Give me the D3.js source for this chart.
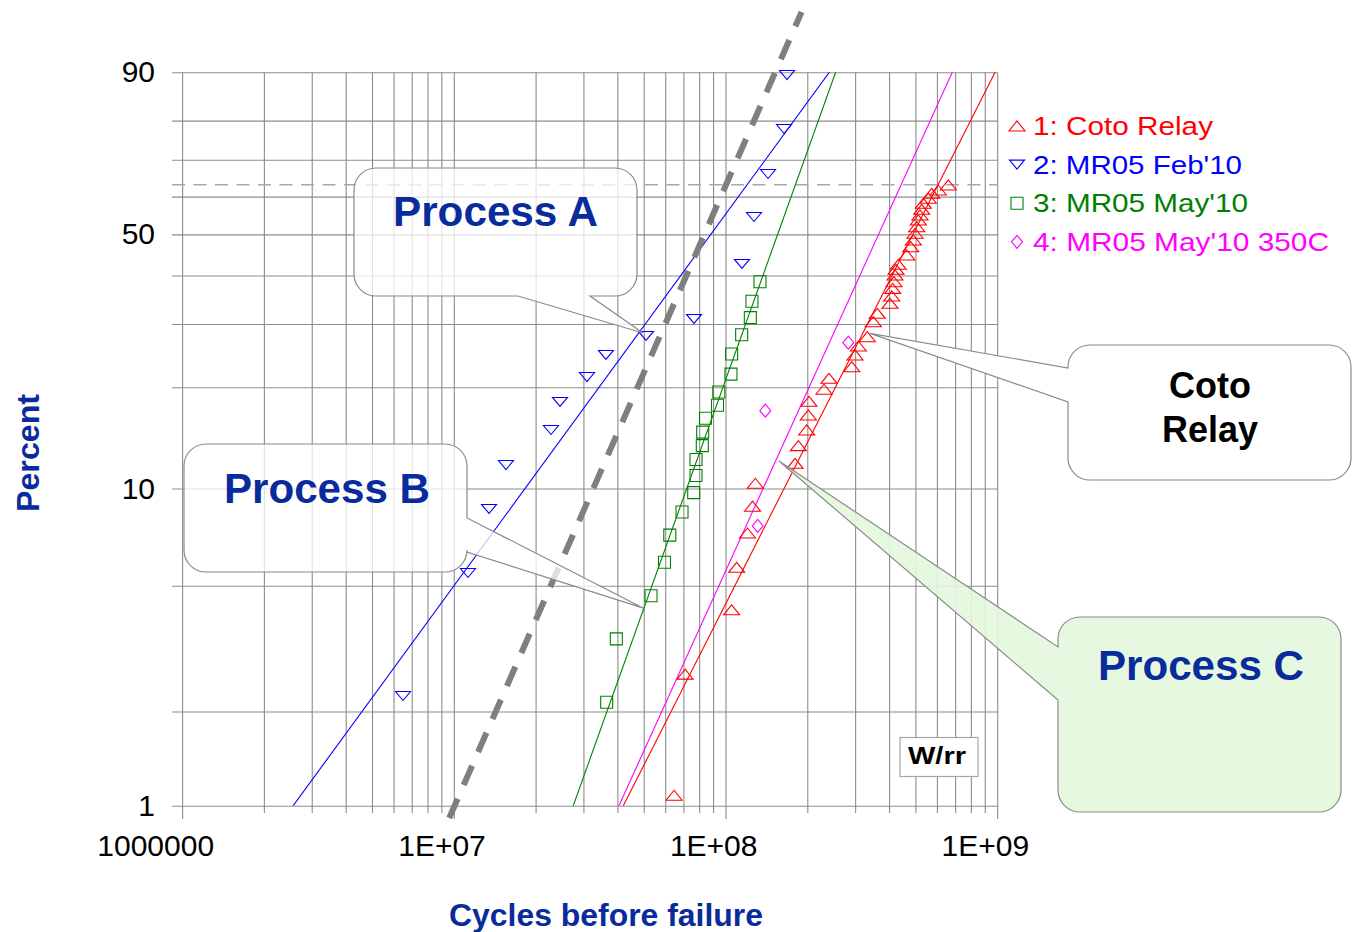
<!DOCTYPE html>
<html>
<head>
<meta charset="utf-8">
<script src="https://cdn.jsdelivr.net/npm/d3@7"></script>
<style>
  html, body { margin: 0; padding: 0; background: #fff; }
  svg text { font-family: "Liberation Sans", Arial, sans-serif; }
</style>
</head>
<body>
<script>
// ---------------- DATA ----------------
const seriesNames = ["1: Coto Relay", "2: MR05 Feb'10", "3: MR05 May'10", "4: MR05 May'10 350C"];
const seriesColors = ["#ff0000", "#0000ff", "#008000", "#ff00ff"];
const seriesShapes = ["up", "down", "square", "diamond"];

const cotoCycles = [6.44e7, 7.07e7, 1.049e8, 1.095e8, 1.200e8, 1.252e8, 1.282e8, 1.795e8, 1.846e8, 1.982e8,
  2.009e8, 2.021e8, 2.295e8, 2.394e8, 2.902e8, 2.984e8, 3.069e8, 3.312e8, 3.485e8, 3.605e8,
  4.014e8, 4.073e8, 4.108e8, 4.153e8, 4.188e8, 4.224e8, 4.307e8, 4.626e8, 4.785e8, 4.892e8,
  4.962e8, 5.034e8, 5.103e8, 5.176e8, 5.252e8, 5.324e8, 5.554e8, 5.716e8, 6.044e8, 6.580e8];
const cotoPct = [1.08, 2.63, 4.20, 5.71, 7.30, 8.83, 10.38, 11.93, 13.48, 15.01,
  16.62, 18.22, 19.74, 21.22, 22.89, 24.69, 26.14, 27.72, 30.42, 32.03,
  34.02, 35.53, 37.16, 38.61, 40.12, 41.43, 42.60, 44.83, 46.87, 48.55,
  50.27, 51.98, 53.74, 55.06, 56.59, 58.20, 59.56, 60.91, 61.81, 63.18];

const feb10Cycles = [6.475e6, 1.123e7, 1.342e7, 1.550e7, 2.269e7, 2.449e7, 3.079e7, 3.616e7, 5.077e7, 7.625e7,
  1.145e8, 1.268e8, 1.428e8, 1.635e8, 1.677e8];
const feb10Pct = [2.24, 5.48, 8.66, 11.79, 15.01, 18.14, 21.40, 24.69, 27.85, 30.94,
  42.68, 54.53, 66.17, 77.97, 89.53];

const may10Cycles = [3.638e7, 3.948e7, 5.297e7, 5.937e7, 6.210e7, 6.889e7, 7.606e7, 7.756e7, 7.756e7, 8.181e7,
  8.208e7, 8.405e7, 9.305e7, 9.408e7, 1.043e8, 1.049e8, 1.142e8, 1.229e8, 1.246e8, 1.334e8];
const may10Pct = [2.14, 3.40, 4.65, 5.92, 7.19, 8.48, 9.72, 10.96, 12.25, 13.48,
  14.79, 16.26, 17.75, 19.39, 21.81, 24.84, 28.07, 31.19, 34.43, 38.61];

const may350Cycles = [1.308e8, 1.395e8, 2.819e8];
const may350Pct = [7.68, 17.11, 26.69];

// Weibull fit parameters (beta, eta) per series
const fitBeta = [1.725, 1.196, 2.444, 1.924];
const fitEta = [6.03e8, 1.195e8, 1.80e8, 4.41e8];

// Reference (thick dashed) line
const refBeta = 2.0;
const refEta = 1.0e8;

// Axis ticks
const yGridPct = [1, 2, 5, 10, 20, 30, 40, 50, 60, 70, 80, 90];
const yLabelPct = [1, 10, 50, 90];
const xDecades = [1e6, 1e7, 1e8, 1e9];
const xTickText = ["1000000", "1E+07", "1E+08", "1E+09"];

// Callout tips (cycles, percent)
const tipCycles = [4.95e7, 4.97e7, 3.39e8, 1.567e8];
const tipPct = [28.37, 4.25, 28.31, 12.13];

// ---------------- SCALES ----------------
const W = p => Math.log(-Math.log(1 - p / 100));
const L = { left: 182.6, right: 997.7, top: 72.3, bottom: 805.7 };
const x = d3.scaleLog().domain([1e6, 1e9]).range([L.left, L.right]);
const y = d3.scaleLinear().domain([W(1), W(90)]).range([L.bottom, L.top]);
const yP = p => y(W(p));

const svg = d3.select("body").append("svg").attr("width", 1352).attr("height", 932);

svg.append("defs").append("clipPath").attr("id", "plotclip")
  .append("rect").attr("x", L.left).attr("y", L.top)
  .attr("width", L.right - L.left).attr("height", L.bottom - L.top);

const gridColor = "#8c8c8c";

// vertical grid
const vGrid = [];
xDecades.slice(0, 3).forEach(d => { for (let k = 1; k <= 9; k++) vGrid.push(k * d); });
vGrid.push(1e9);
svg.append("g").selectAll("line").data(vGrid).join("line")
  .attr("x1", d => x(d)).attr("x2", d => x(d))
  .attr("y1", L.top)
  .attr("y2", d => xDecades.includes(d) ? 819 : 813)
  .attr("stroke", gridColor).attr("stroke-width", 1.1);

// horizontal grid + y labels via axis
const yAxis = d3.axisLeft(y)
  .tickValues(yGridPct.map(W))
  .tickSizeInner(-(L.right - 172))
  .tickSizeOuter(0)
  .tickPadding(17)
  .tickFormat((d, i) => yLabelPct.includes(yGridPct[i]) ? String(yGridPct[i]) : "");
const gy = svg.append("g").attr("transform", "translate(172,0)").call(yAxis);
gy.select(".domain").remove();
gy.selectAll(".tick line").attr("stroke", gridColor).attr("stroke-width", 1.1);
gy.selectAll(".tick text").attr("font-size", 30).attr("fill", "#000")
  .attr("font-family", "Liberation Sans, Arial, sans-serif");

// x labels via axis
const xAxis = d3.axisBottom(x).tickValues(xDecades).tickSize(0).tickPadding(0)
  .tickFormat((d, i) => xTickText[i]);
const gx = svg.append("g").attr("transform", "translate(0,856)").call(xAxis);
gx.select(".domain").remove();
gx.selectAll(".tick text").attr("font-size", 30).attr("fill", "#000")
  .attr("text-anchor", "end").attr("dx", 31).attr("dy", 0).attr("y", 0)
  .attr("font-family", "Liberation Sans, Arial, sans-serif");

// 63.2% characteristic life dashed line
svg.append("line").attr("x1", 172).attr("x2", L.right)
  .attr("y1", y(0)).attr("y2", y(0))
  .attr("stroke", "#a8a8a8").attr("stroke-width", 1.5).attr("stroke-dasharray", "13,8.5");

// fit lines
const tAt = (beta, eta, w) => eta * Math.exp(w / beta);
const fitG = svg.append("g").attr("clip-path", "url(#plotclip)");
fitBeta.forEach((b, i) => {
  const w0 = W(0.5), w1 = W(97);
  fitG.append("line")
    .attr("x1", x(tAt(b, fitEta[i], w0))).attr("y1", y(w0))
    .attr("x2", x(tAt(b, fitEta[i], w1))).attr("y2", y(w1))
    .attr("stroke", seriesColors[i]).attr("stroke-width", 1.1);
});

// thick dashed reference line (extends outside plot)
{
  const w0 = -4.691, w1 = 1.2808;
  svg.append("line")
    .attr("x1", x(tAt(refBeta, refEta, w0))).attr("y1", y(w0))
    .attr("x2", x(tAt(refBeta, refEta, w1))).attr("y2", y(w1))
    .attr("stroke", "#7f7f7f").attr("stroke-width", 6).attr("stroke-dasharray", "21,15");
}

// markers
const shapePath = {
  up: "M-8,5L8,5L0,-5Z",
  down: "M-7.5,-4.5L7.5,-4.5L0,4.5Z",
  square: "M-6,-6H6V6H-6Z",
  diamond: "M0,-6.5L5.5,0L0,6.5L-5.5,0Z"
};
const allCycles = [cotoCycles, feb10Cycles, may10Cycles, may350Cycles];
const allPct = [cotoPct, feb10Pct, may10Pct, may350Pct];
const markG = svg.append("g");
allCycles.forEach((cyc, i) => {
  const pts = cyc.map((c, j) => ({ c, p: allPct[i][j] }));
  markG.append("g").selectAll("path").data(pts).join("path")
    .attr("d", shapePath[seriesShapes[i]])
    .attr("transform", d => `translate(${x(d.c)},${yP(d.p)})`)
    .attr("fill", "none").attr("stroke", seriesColors[i]).attr("stroke-width", 1.1);
});

// ---------------- CALLOUTS ----------------
function boxPath(x0, y0, x1, y1, r, side, a, c, tx, ty) {
  const A = (ex, ey) => `A${r},${r} 0 0 1 ${ex},${ey}`;
  let s = `M${x0 + r},${y0} H${x1 - r} ${A(x1, y0 + r)} `;
  if (side === "right") s += `V${a} L${tx},${ty} L${x1},${c} `;
  s += `V${y1 - r} ${A(x1 - r, y1)} `;
  if (side === "bottom") s += `H${c} L${tx},${ty} L${a},${y1} `;
  s += `H${x0 + r} ${A(x0, y1 - r)} `;
  if (side === "left") s += `V${c} L${tx},${ty} L${x0},${a} `;
  s += `V${y0 + r} ${A(x0 + r, y0)} Z`;
  return s;
}
const calloutStroke = "#8a8a8a";
const blueTitle = "#0a2b9c";

// Process A
svg.append("path")
  .attr("d", boxPath(354, 168, 637, 296, 22, "bottom", 518, 590, x(tipCycles[0]), yP(tipPct[0])))
  .attr("fill", "rgba(255,255,255,0.75)").attr("stroke", calloutStroke).attr("stroke-width", 1.2);
svg.append("text").attr("x", 393).attr("y", 226).attr("font-size", 42).attr("font-weight", "bold")
  .attr("fill", blueTitle).attr("textLength", 205).attr("lengthAdjust", "spacingAndGlyphs").text("Process A");

// Process B
svg.append("path")
  .attr("d", boxPath(184, 444, 467, 572, 22, "right", 518, 552, x(tipCycles[1]), yP(tipPct[1])))
  .attr("fill", "rgba(255,255,255,0.75)").attr("stroke", calloutStroke).attr("stroke-width", 1.2);
svg.append("text").attr("x", 224).attr("y", 503).attr("font-size", 42).attr("font-weight", "bold")
  .attr("fill", blueTitle).attr("textLength", 206).attr("lengthAdjust", "spacingAndGlyphs").text("Process B");

// Coto Relay
svg.append("path")
  .attr("d", boxPath(1068, 345, 1351, 480, 22, "left", 368, 402, x(tipCycles[2]), yP(tipPct[2])))
  .attr("fill", "#ffffff").attr("stroke", calloutStroke).attr("stroke-width", 1.2);
svg.append("text").attr("x", 1210).attr("y", 398).attr("font-size", 36).attr("font-weight", "bold")
  .attr("text-anchor", "middle").attr("fill", "#000").text("Coto");
svg.append("text").attr("x", 1210).attr("y", 442).attr("font-size", 36).attr("font-weight", "bold")
  .attr("text-anchor", "middle").attr("fill", "#000").text("Relay");

// Process C
svg.append("path")
  .attr("d", boxPath(1058, 617, 1341, 812, 22, "left", 647, 700, x(tipCycles[3]), yP(tipPct[3])))
  .attr("fill", "#e3f8dd").attr("fill-opacity", 0.9).attr("stroke", calloutStroke).attr("stroke-width", 1.2);
svg.append("text").attr("x", 1098).attr("y", 680).attr("font-size", 42).attr("font-weight", "bold")
  .attr("fill", blueTitle).attr("textLength", 206).attr("lengthAdjust", "spacingAndGlyphs").text("Process C");

// W/rr box
svg.append("rect").attr("x", 900).attr("y", 737.5).attr("width", 78).attr("height", 39)
  .attr("fill", "#fff").attr("stroke", "#a6a6a6").attr("stroke-width", 1.2);
svg.append("text").attr("x", 908).attr("y", 764).attr("font-size", 24).attr("font-weight", "bold")
  .attr("fill", "#000").attr("textLength", 58).attr("lengthAdjust", "spacingAndGlyphs").text("W/rr");

// ---------------- LEGEND ----------------
const legendWidths = [180, 209, 215, 296];
const legG = svg.append("g");
seriesNames.forEach((nm, i) => {
  const cy = 126 + i * 38.6;
  legG.append("path").attr("d", shapePath[seriesShapes[i]])
    .attr("transform", `translate(1017,${cy})`)
    .attr("fill", "none").attr("stroke", seriesColors[i]).attr("stroke-width", 1.1);
  legG.append("text").attr("x", 1033).attr("y", cy + 9).attr("font-size", 25)
    .attr("fill", seriesColors[i]).attr("textLength", legendWidths[i])
    .attr("lengthAdjust", "spacingAndGlyphs").text(nm);
});

// ---------------- AXIS TITLES ----------------
svg.append("text").attr("transform", "translate(39,453) rotate(-90)")
  .attr("text-anchor", "middle").attr("font-size", 32).attr("font-weight", "bold")
  .attr("fill", blueTitle).attr("textLength", 118).attr("lengthAdjust", "spacingAndGlyphs").text("Percent");
svg.append("text").attr("x", 606).attr("y", 926)
  .attr("text-anchor", "middle").attr("font-size", 31).attr("font-weight", "bold")
  .attr("fill", blueTitle).attr("textLength", 314).attr("lengthAdjust", "spacingAndGlyphs").text("Cycles before failure");
</script>
</body>
</html>
